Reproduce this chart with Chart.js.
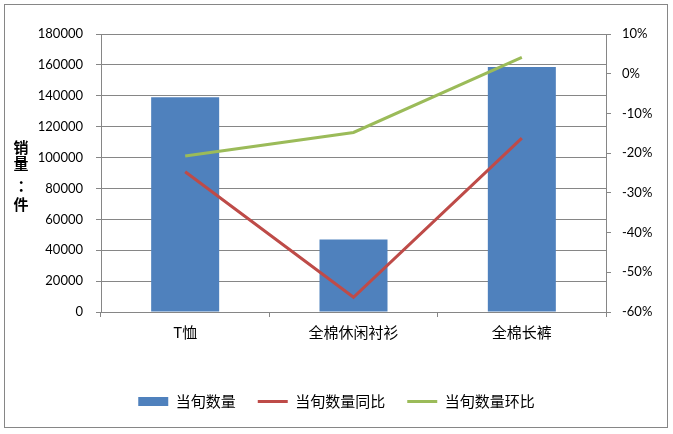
<!DOCTYPE html>
<html>
<head>
<meta charset="utf-8">
<script src="https://cdn.jsdelivr.net/npm/chart.js@4.4.1/dist/chart.umd.min.js"></script>
<style>
  html, body { margin: 0; padding: 0; background: #fff; }
  #wrap { position: relative; width: 673px; height: 434px; }
</style>
</head>
<body>
<div id="wrap"><canvas id="c" width="673" height="434"></canvas></div>
<script>
const categories = ['T恤', '全棉休闲衬衫', '全棉长裤'];
const qty = [139000, 47000, 158600];          // 当旬数量
const yoy = [-24.7, -56.3, -16.2];            // 当旬数量同比 (%)
const mom = [-20.7, -14.8, 4.1];              // 当旬数量环比 (%)
const seriesNames = ['当旬数量', '当旬数量同比', '当旬数量环比'];
const axisTitle = ['销', '量', '：', '件'];

const GRID = '#868686';
const CJK = '"Noto Sans CJK SC", sans-serif';
const NUM = 'Lato, "Liberation Sans", sans-serif';

const frame = {
  id: 'frame',
  afterDraw(chart) {
    const ctx = chart.ctx;
    ctx.save();
    ctx.strokeStyle = GRID;
    ctx.lineWidth = 1;
    ctx.strokeRect(4.5, 4.5, 663, 423);
    // vertical stacked axis title
    ctx.fillStyle = '#000';
    ctx.font = 'bold 15px ' + CJK;
    ctx.textAlign = 'center';
    ctx.textBaseline = 'middle';
    const ys = [147, 163, 185, 204];
    axisTitle.forEach((ch, i) => ctx.fillText(ch, ch === '：' ? 25 : 21, ys[i]));
    ctx.restore();
  }
};

new Chart(document.getElementById('c'), {
  data: {
    labels: categories,
    datasets: [
      {
        type: 'bar', label: seriesNames[0], data: qty, yAxisID: 'y',
        backgroundColor: '#4F81BD', barPercentage: 0.404, categoryPercentage: 1, order: 3
      },
      {
        type: 'line', label: seriesNames[1], data: yoy, yAxisID: 'y1',
        borderColor: '#BE4B48', backgroundColor: '#BE4B48', borderWidth: 3,
        pointRadius: 0, tension: 0, order: 2
      },
      {
        type: 'line', label: seriesNames[2], data: mom, yAxisID: 'y1',
        borderColor: '#9BBB59', backgroundColor: '#9BBB59', borderWidth: 3,
        pointRadius: 0, tension: 0, order: 1
      }
    ]
  },
  options: {
    responsive: false,
    animation: false,
    layout: { padding: { top: 34, left: 0, right: 0, bottom: 15 } },
    plugins: {
      tooltip: { enabled: false },
      legend: {
        position: 'bottom',
        labels: {
          color: '#000',
          font: { family: CJK, size: 15 },
          usePointStyle: true,
          pointStyleWidth: 30,
          boxHeight: 9,
          padding: 22,
          sort: (a, b) => a.datasetIndex - b.datasetIndex,
          generateLabels(chart) {
            const items = Chart.defaults.plugins.legend.labels.generateLabels(chart);
            items.forEach(it => {
              const ds = chart.data.datasets[it.datasetIndex];
              if (ds.type === 'bar') {
                it.pointStyle = 'rect';
                it.lineWidth = 0;
              } else {
                it.pointStyle = 'line';
                it.lineWidth = 3;
                it.strokeStyle = ds.borderColor;
              }
            });
            return items;
          }
        }
      }
    },
    scales: {
      x: {
        offset: true,
        grid: { offset: true, drawOnChartArea: false, drawTicks: true, tickLength: 5, color: GRID },
        border: { color: GRID },
        ticks: { color: '#000', font: { family: CJK, size: 15 }, padding: 6, maxRotation: 0 },
        afterFit(s) { s.height = 60; }
      },
      y: {
        position: 'left',
        min: 0, max: 180000,
        ticks: { stepSize: 20000, color: '#000', font: { family: NUM, size: 13 }, padding: 13, callback: v => String(v) },
        grid: { color: GRID, tickLength: 5 },
        border: { color: GRID },
        afterFit(s) { s.width = 101; }
      },
      y1: {
        position: 'right',
        min: -60, max: 10,
        ticks: { stepSize: 10, color: '#000', font: { family: NUM, size: 13 }, padding: 11, callback: v => v + '%' },
        grid: { drawOnChartArea: false, color: GRID, tickLength: 5 },
        border: { color: GRID },
        afterFit(s) { s.width = 67; }
      }
    }
  },
  plugins: [frame]
});
</script>
</body>
</html>
